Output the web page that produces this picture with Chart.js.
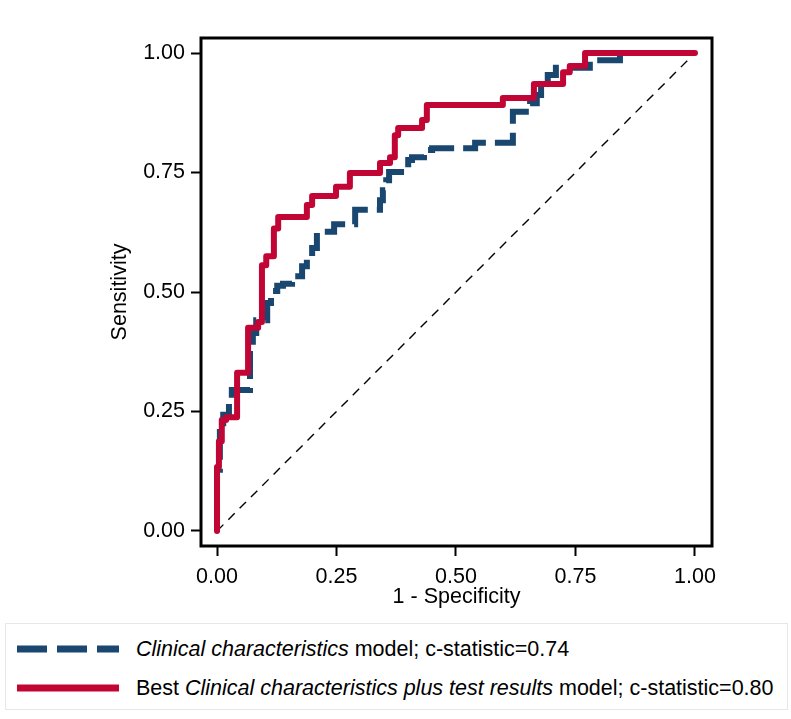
<!DOCTYPE html>
<html>
<head>
<meta charset="utf-8">
<script src="https://cdn.jsdelivr.net/npm/chart.js@4.4.0/dist/chart.umd.min.js"></script>
<style>
  html, body { margin: 0; padding: 0; background: #fff; }
  #wrap { position: relative; width: 791px; height: 719px; font-family: "Liberation Sans", Arial, sans-serif; }
  #box { position: absolute; left: 0; top: 0; width: 791px; height: 615px; }
  #legend { position: absolute; left: 5px; top: 623px; width: 783px; height: 87px; border: 1px solid #e2e8ec; box-sizing: border-box; }
  .row { position: absolute; left: 0; height: 26px; display: flex; align-items: center; font-size: 21.5px; color: #000; white-space: nowrap; }
  .row svg { margin-left: 11px; margin-right: 17px; }
</style>
</head>
<body>
<div id="wrap">
  <div id="box"><canvas id="roc"></canvas></div>
  <div id="legend">
    <div class="row" style="top:12px">
      <svg width="102" height="10"><line x1="0" y1="5" x2="102" y2="5" stroke="#1a476f" stroke-width="7" stroke-dasharray="30 10"/></svg>
      <span><i>Clinical characteristics</i> model; c-statistic=0.74</span>
    </div>
    <div class="row" style="top:51px">
      <svg width="102" height="10"><line x1="0" y1="5" x2="102" y2="5" stroke="#c10534" stroke-width="7"/></svg>
      <span>Best <i>Clinical characteristics plus test results</i> model; c-statistic=0.80</span>
    </div>
  </div>
</div>
<script>
// ROC curves: 1 - specificity (x) vs sensitivity (y), as step corners
var bestFpr = [0, 0.004, 0.010, 0.019, 0.042, 0.065, 0.086, 0.094, 0.103, 0.119, 0.128, 0.188, 0.199, 0.249, 0.278, 0.341, 0.362, 0.372, 0.379, 0.429, 0.439, 0.598, 0.663, 0.724, 0.738, 0.770, 1.0];
var bestTpr = [0, 0.134, 0.188, 0.232, 0.238, 0.331, 0.425, 0.437, 0.556, 0.575, 0.633, 0.657, 0.682, 0.701, 0.720, 0.749, 0.770, 0.782, 0.828, 0.843, 0.860, 0.891, 0.906, 0.935, 0.960, 0.973, 1.0];

var clinFpr = [0, 0.006, 0.013, 0.025, 0.031, 0.069, 0.075, 0.082, 0.105, 0.113, 0.126, 0.138, 0.157, 0.178, 0.188, 0.199, 0.209, 0.245, 0.289, 0.341, 0.347, 0.354, 0.360, 0.400, 0.408, 0.433, 0.450, 0.540, 0.619, 0.655, 0.669, 0.678, 0.692, 0.709, 0.780, 0.843, 1.0];
var clinTpr = [0, 0.128, 0.207, 0.243, 0.270, 0.295, 0.379, 0.414, 0.441, 0.477, 0.502, 0.513, 0.517, 0.533, 0.554, 0.575, 0.592, 0.626, 0.642, 0.672, 0.692, 0.713, 0.734, 0.751, 0.776, 0.782, 0.797, 0.801, 0.812, 0.877, 0.895, 0.912, 0.939, 0.954, 0.969, 0.985, 1.0];

var refLine = [0, 1];
var tickValues = [0, 0.25, 0.5, 0.75, 1];

function pairs(xs, ys) {
  return xs.map(function(x, i) { return { x: x, y: ys[i] }; });
}

var font = { family: '"Liberation Sans", Arial, sans-serif', size: 21.5 };

// thick black box round the plot region
var frame = {
  id: 'frame',
  afterDraw: function(chart) {
    var a = chart.chartArea, ctx = chart.ctx;
    ctx.save();
    ctx.strokeStyle = '#000';
    ctx.lineWidth = 3;
    ctx.strokeRect(a.left, a.top, a.right - a.left, a.bottom - a.top);
    ctx.restore();
  }
};

function fixedTicks(axis) {
  axis.ticks = tickValues.map(function(v) { return { value: v }; });
}

new Chart(document.getElementById('roc'), {
  type: 'scatter',
  data: {
    datasets: [
      {
        data: pairs(bestFpr, bestTpr),
        showLine: true, stepped: 'after',
        borderColor: '#c10534', borderWidth: 6,
        borderJoinStyle: 'round', borderCapStyle: 'round',
        pointRadius: 0, order: 1
      },
      {
        data: pairs(clinFpr, clinTpr),
        showLine: true, stepped: 'after',
        borderColor: '#1a476f', borderWidth: 6,
        borderDash: [28, 9], borderCapStyle: 'butt',
        pointRadius: 0, order: 2
      },
      {
        data: pairs(refLine, refLine),
        showLine: true,
        borderColor: '#000', borderWidth: 1.4,
        borderDash: [9, 7],
        pointRadius: 0, order: 3
      }
    ]
  },
  options: {
    responsive: true,
    maintainAspectRatio: false,
    animation: false,
    layout: { padding: { left: 0, right: 79, top: 38, bottom: 0 } },
    plugins: { legend: { display: false }, tooltip: { enabled: false } },
    scales: {
      x: {
        type: 'linear', min: -0.0335, max: 1.0356,
        afterBuildTicks: fixedTicks,
        afterFit: function(s) { s.height = 69; },
        grid: { drawOnChartArea: false, drawTicks: true, tickLength: 10, tickWidth: 2, tickColor: '#000' },
        border: { display: false },
        ticks: { color: '#000', font: font, padding: 8, maxRotation: 0,
                 callback: function(v) { return v.toFixed(2); } },
        title: { display: true, text: '1 - Specificity', color: '#000', font: font, padding: { top: 0, bottom: 5 } }
      },
      y: {
        type: 'linear', min: -0.0314, max: 1.0314,
        afterBuildTicks: fixedTicks,
        afterFit: function(s) { s.width = 201; },
        grid: { drawOnChartArea: false, drawTicks: true, tickLength: 10, tickWidth: 2, tickColor: '#000' },
        border: { display: false },
        ticks: { color: '#000', font: font, padding: 6,
                 callback: function(v) { return v.toFixed(2); } },
        title: { display: true, text: 'Sensitivity', color: '#000', font: font, padding: { top: 107, bottom: 0 } }
      }
    }
  },
  plugins: [frame]
});
</script>
</body>
</html>
